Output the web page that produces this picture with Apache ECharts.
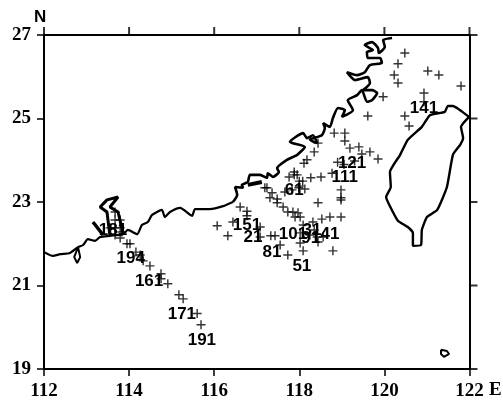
<!DOCTYPE html>
<html><head><meta charset="utf-8">
<style>html,body{margin:0;padding:0;background:#fff}#c{width:503px;height:404px}</style>
<script src="https://cdn.jsdelivr.net/npm/echarts@6/dist/echarts.min.js"></script></head>
<body><div id="c"></div>
<script>
const xTicks = [112,114,116,118,120,122];
const yTicks = [19,21,23,25,27];
const coastSouth = [[112,21.8],[112.21,21.71],[112.38,21.75],[112.61,21.78],[112.8,21.92],[112.92,21.97],[113.03,22.11],[113.2,22.07],[113.32,22.16],[113.55,22.19],[113.86,22.23],[113.97,22.33],[114.19,22.23],[114.3,22.45],[114.44,22.52],[114.54,22.69],[114.77,22.81],[114.84,22.64],[114.96,22.76],[115.2,22.86],[115.48,22.67],[115.55,22.83],[115.9,22.83],[116.21,22.9],[116.44,23]];
const coastNorth = [[116.44,23],[116.54,23.17],[116.49,23.36],[116.68,23.34],[116.65,23.41],[116.79,23.48],[116.84,23.65],[117.08,23.65],[117.24,23.58],[117.26,23.69],[117.38,23.6],[117.52,23.72],[117.48,23.81],[117.71,24.01],[117.95,24.13],[118.13,24.32],[117.78,24.44],[118.09,24.65],[118.18,24.53],[118.32,24.6],[118.42,24.41],[118.25,24.49],[118.53,24.6],[118.6,24.77],[118.56,24.89],[118.72,24.8],[118.79,25.01],[118.91,25.25],[119.07,25.2],[119,25.04],[119.26,25.2],[119.14,25.44],[119.36,25.56],[119.47,25.68],[119.59,25.4],[119.71,25.44],[119.83,25.61],[119.71,25.68],[119.5,25.68],[119.66,25.85],[119.61,25.99],[119.31,25.92],[119.12,26.11],[119.36,26.04],[119.54,26.11],[119.66,26.28],[119.94,26.33],[119.9,26.45],[119.61,26.45],[119.59,26.59],[119.73,26.64],[119.54,26.76],[119.71,26.83],[119.85,26.69],[119.87,26.57],[120.01,26.71],[119.97,26.88],[120.18,26.93]];
const blob = [[116.79,23.41],[117.12,23.48]];
const bay = [[113.55,22.19],[113.48,22.76],[113.32,22.88],[113.48,23.05],[113.74,23.12],[113.55,22.88],[113.74,22.76],[113.83,22.38],[113.86,22.23]];
const spit = [[113.15,22.52],[113.39,22.21]];
const loopWest = [[112.8,21.92],[112.71,21.68],[112.78,21.54],[112.85,21.68],[112.8,21.92]];
const taiwan = [[121.99,25.04],[121.78,25.2],[121.61,25.3],[121.49,25.3],[121.42,25.16],[121.07,25.08],[120.88,24.8],[120.55,24.49],[120.37,24.13],[120.13,23.72],[120.15,23.36],[120.04,23.12],[120.2,22.76],[120.32,22.55],[120.55,22.4],[120.67,22.26],[120.67,21.95],[120.86,21.97],[120.88,22.33],[121,22.64],[121.24,22.81],[121.47,23.36],[121.61,24.13],[121.78,24.37],[121.85,24.53],[121.8,24.8],[121.99,25.04]];
const islet = [[121.33,19.46],[121.47,19.43],[121.52,19.36],[121.4,19.29],[121.33,19.36],[121.33,19.46]];
const stations = [[120.48,26.57],[120.32,26.31],[120.23,26.04],[120.32,25.85],[121.02,26.14],[121.28,26.04],[121.8,25.78],[120.93,25.61],[120.93,25.4],[120.48,25.06],[120.58,24.82],[119.97,25.52],[119.61,25.06],[118.82,24.65],[119.07,24.65],[119.07,24.46],[119.19,24.29],[119.4,24.32],[119.66,24.2],[119.85,24.03],[118.44,24.41],[118.35,24.2],[118.18,24.01],[118.11,23.93],[118.27,23.58],[118.51,23.6],[118.77,23.69],[117.88,23.65],[117.76,23.6],[117.95,23.65],[117.88,23.72],[118.98,23.29],[118.98,23.1],[117.24,23.34],[117.36,23.22],[117.48,23.07],[118.13,23.31],[117.66,23.24],[117.83,23.29],[117.99,23.34],[117.19,23.34],[117.31,23.1],[117.48,22.98],[117.62,22.88],[117.73,22.76],[117.85,22.76],[117.97,22.74],[117.9,22.64],[118.02,22.64],[118.44,22.98],[118.98,23.05],[118.72,22.64],[118.98,22.64],[118.53,22.59],[118.32,22.52],[118.09,22.45],[118.02,22.26],[118.02,22.02],[118.09,21.83],[118.79,21.83],[117.73,21.73],[117.55,21.97],[117.33,22.19],[117.43,22.19],[117.08,22.4],[117.08,22.16],[116.32,22.19],[116.44,22.52],[116.61,22.88],[116.77,22.78],[116.77,22.67],[116.07,22.43],[118.44,22.04],[118.56,22.16],[118.42,22.16],[118.35,22.33],[118.25,22.21],[113.79,22.14],[113.95,22],[114.02,22],[114.16,21.8],[114.26,21.73],[114.33,21.59],[114.49,21.47],[114.75,21.28],[114.75,21.16],[114.91,21.04],[115.17,20.78],[115.27,20.68],[115.6,20.33],[115.69,20.06],[113.67,22.76],[113.67,22.57],[113.67,22.38],[113.79,22.57],[113.79,22.38],[113.67,22.21],[113.55,22.38],[113.83,22.28],[118,23.5],[118.08,23.5],[118,23.38],[118.9,23.95],[119.05,23.9],[119.3,23.98],[119.47,24.15]];
const stationLabels = [["141",120.93,25.25],["121",119.24,23.93],["111",119.07,23.58],["61",117.88,23.29],["151",116.77,22.45],["21",116.91,22.16],["101",117.85,22.23],["31",118.3,22.33],["41",118.72,22.23],["91",118.27,22.14],["81",117.36,21.8],["51",118.06,21.47],["191",115.71,19.69],["171",115.24,20.32],["161",114.47,21.11],["194",114.04,21.64],["181",113.62,22.31]];

const tickFont = {fontFamily:'Liberation Serif',fontWeight:'bold',fontSize:19,color:'#000'};
const axisLine = {show:true,onZero:false,lineStyle:{color:'#000',width:2}};
const axisTick = {show:true,length:7,lineStyle:{color:'#000',width:1.5}};
const line = (d,w,s)=>({type:'line',data:d,showSymbol:false,symbol:'none',smooth:s||0,lineStyle:{color:'#000',width:w},z:3});
const frameTicks = (d,size,offset)=>({type:'scatter',data:d,clip:false,z:6,symbol:'rect',symbolSize:size,symbolOffset:offset,itemStyle:{color:'#000'}});
const chart = echarts.init(document.getElementById('c'),null,{renderer:'canvas'});
chart.setOption({
  animation:false,
  backgroundColor:'#fff',
  grid:{left:44,right:33.5,top:35,bottom:35},
  xAxis:[
    {type:'value',position:'bottom',min:112,max:122,interval:2,splitLine:{show:false},axisLine,axisTick,
     axisLabel:{...tickFont,margin:13,formatter:v=>xTicks.includes(v)?String(v):''}},
    {type:'value',position:'top',min:112,max:122,interval:2,splitLine:{show:false},axisLine,axisTick:{show:false},axisLabel:{show:false}}
  ],
  yAxis:[
    {type:'value',position:'left',min:19,max:27,interval:2,splitLine:{show:false},axisLine,axisTick,
     axisLabel:{...tickFont,margin:13,formatter:v=>yTicks.includes(v)?String(v):''}},
    {type:'value',position:'right',min:19,max:27,interval:2,splitLine:{show:false},axisLine,axisTick:{show:false},axisLabel:{show:false}}
  ],
  graphic:[
    {type:'text',left:34,top:9,silent:true,style:{text:'N',fontFamily:'Liberation Sans',fontWeight:'bold',fontSize:17,fill:'#000'}},
    {type:'text',left:489,top:381,silent:true,style:{text:'E',fontFamily:'Liberation Serif',fontWeight:'bold',fontSize:19,fill:'#000'}}
  ],
  series:[
    line(coastSouth,2.2,0.2),line(coastNorth,2.6,0.2),line(blob,4),line(bay,3),line(spit,3.5),line(loopWest,2),
    line(taiwan,2.4,0.15),line(islet,2),
    frameTicks(xTicks.map(x=>[x,27]),[2,8],[0,-4]),
    frameTicks(yTicks.map(y=>[122,y]),[8,2],[4,0]),
    {type:'scatter',data:stations,z:4,symbol:'path://M4.2 0h1.6v4.2h4.2v1.6h-4.2v4.2h-1.6v-4.2h-4.2v-1.6h4.2z',symbolSize:9,itemStyle:{color:'#000'}},
    {type:'scatter',z:5,symbolSize:1,itemStyle:{color:'#000',opacity:0},
     data:stationLabels.map(r=>({name:r[0],value:[r[1],r[2]]})),
     label:{show:true,position:'inside',formatter:'{b}',opacity:1,fontFamily:'Liberation Sans',fontWeight:'bold',fontSize:17,color:'#000'}}
  ]
});
</script></body></html>
